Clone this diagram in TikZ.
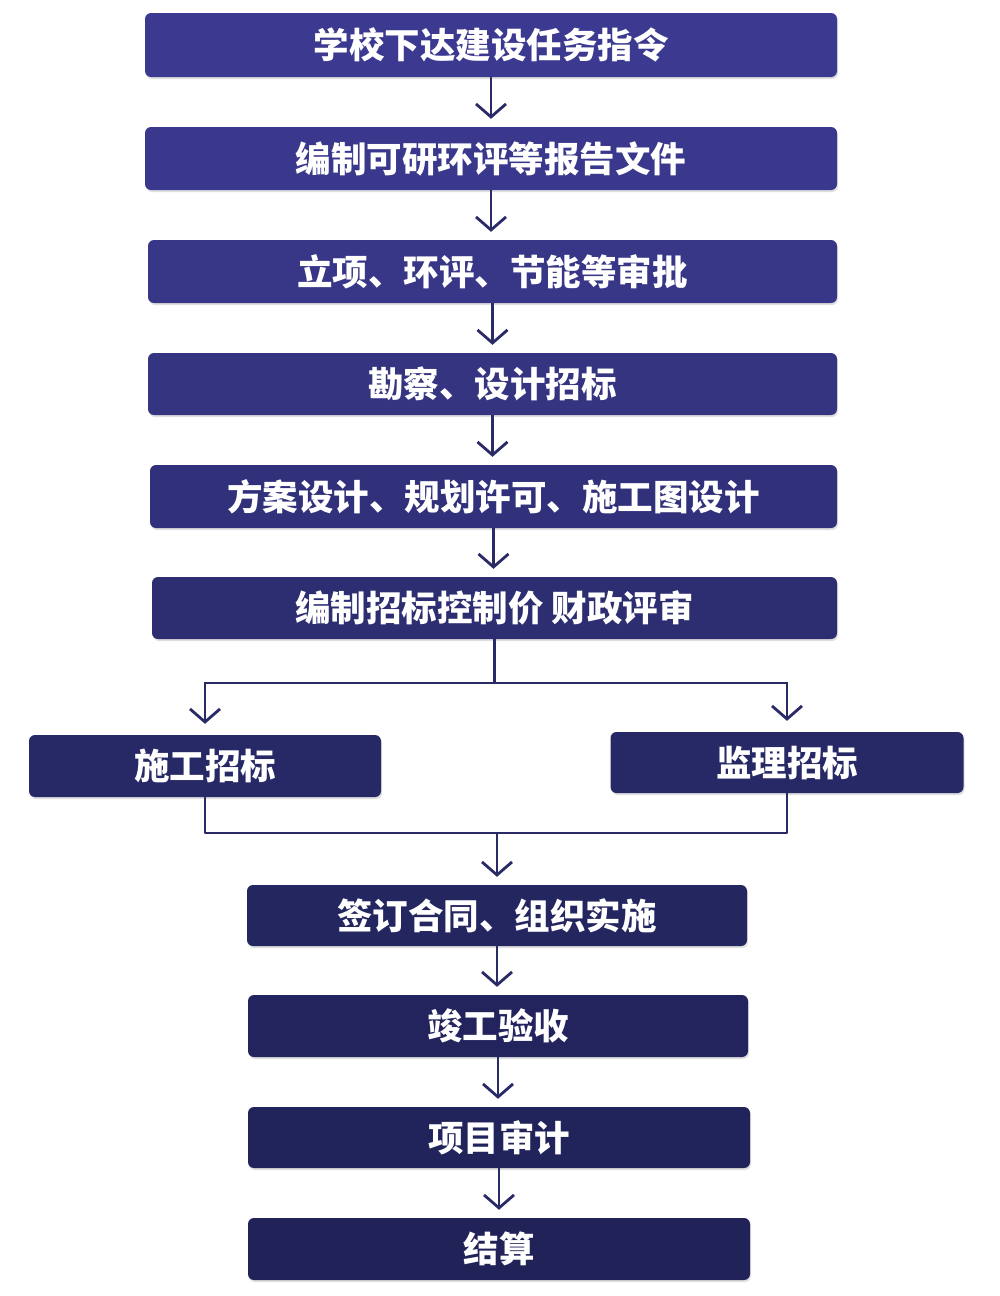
\documentclass[tikz,border=0pt]{standalone}
\usepackage{fontspec}
\newfontfamily\cjk{Noto Sans CJK SC}
\usetikzlibrary{arrows.meta,shadows}
\definecolor{navytop}{RGB}{60,58,144}
\definecolor{navyend}{RGB}{32,34,88}
\definecolor{linecol}{RGB}{42,42,102}
\tikzset{
  box/.style={rounded corners=6pt, inner sep=0pt, text=white,
    font=\cjk\bfseries\fontsize{35.5}{40}\selectfont,
    drop shadow={shadow xshift=1pt, shadow yshift=-2pt, opacity=0.25}},
  conn/.style={draw=linecol, line width=2.8pt},
  arr/.style={conn, -{Straight Barb[length=13pt,width=30pt,line width=2.8pt]}, shorten >=8pt}
}
\begin{document}
\begin{tikzpicture}[x=1pt,y=-1pt]
\useasboundingbox (0,0) rectangle (1000,1296);
\fill[white] (0,0) rectangle (1000,1296);
% main column
\node[box, fill=navyend!0!navytop, minimum width=692pt, minimum height=64pt] (b1) at (491,45) {学校下达建设任务指令};
\node[box, fill=navyend!8!navytop, minimum width=692pt, minimum height=63pt] (b2) at (491,158.5) {编制可研环评等报告文件};
\node[box, fill=navyend!16!navytop, minimum width=689pt, minimum height=63pt] (b3) at (492.5,271.5) {立项、环评、节能等审批};
\node[box, fill=navyend!26!navytop, minimum width=689pt, minimum height=62pt] (b4) at (492.5,384) {勘察、设计招标};
\node[box, fill=navyend!40!navytop, minimum width=687pt, minimum height=63pt] (b5) at (493.5,496.5) {方案设计、规划许可、施工图设计};
\node[box, fill=navyend!55!navytop, minimum width=685pt, minimum height=62pt] (b6) at (494.5,608) {编制招标控制价 财政评审};
% branches
\node[box, fill=navyend!75!navytop, minimum width=352pt, minimum height=62pt] (b7) at (205,766) {施工招标};
\node[box, fill=navyend!75!navytop, minimum width=353pt, minimum height=61pt] (b8) at (787,762.5) {监理招标};
% lower column
\node[box, fill=navyend!85!navytop, minimum width=500pt, minimum height=61pt] (b9) at (497,915.5) {签订合同、组织实施};
\node[box, fill=navyend!90!navytop, minimum width=500pt, minimum height=62pt] (b10) at (498,1026) {竣工验收};
\node[box, fill=navyend!95!navytop, minimum width=502pt, minimum height=61pt] (b11) at (499,1137.5) {项目审计};
\node[box, fill=navyend!100!navytop, minimum width=502pt, minimum height=62pt] (b12) at (499,1249) {结算};
% connectors
\draw[arr] (b1.south) -- (b1.south |- b2.north);
\draw[arr] (b2.south) -- (b2.south |- b3.north);
\draw[arr] (b3.south) -- (b3.south |- b4.north);
\draw[arr] (b4.south) -- (b4.south |- b5.north);
\draw[arr] (b5.south) -- (b5.south |- b6.north);
\coordinate (lvl) at (0,683);
\coordinate (split) at (b6.south |- lvl);
\draw[conn] (b6.south) -- (split);
\draw[arr, shorten >=11pt] (split) -| (b7.north);
\draw[arr, shorten >=11pt] (split) -| (b8.north);
\coordinate (merge) at (497,833);
\draw[conn, line join=round] (b7.south) |- (merge) -| (b8.south);
\draw[arr] (merge) -- (merge |- b9.north);
\draw[arr] (b9.south) -- (b9.south |- b10.north);
\draw[arr] (b10.south) -- (b10.south |- b11.north);
\draw[arr] (b11.south) -- (b11.south |- b12.north);
\end{tikzpicture}
\end{document}
